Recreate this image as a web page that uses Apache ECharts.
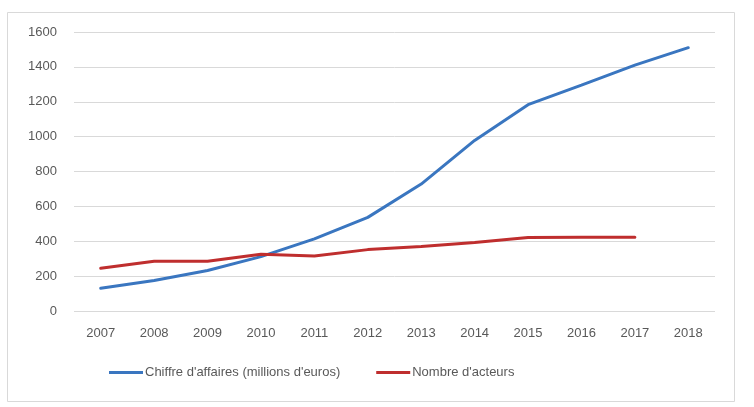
<!DOCTYPE html>
<html>
<head>
<meta charset="utf-8">
<script src="https://cdn.jsdelivr.net/npm/echarts@6/dist/echarts.min.js"></script>
<style>
html,body{margin:0;padding:0;background:#fff;}
#chart{width:754px;height:407px;}
</style>
</head>
<body>
<div id="chart"></div>
<script>
const years = ['2007','2008','2009','2010','2011','2012','2013','2014','2015','2016','2017','2018'];
const chiffreAffaires = [130, 175, 232, 312, 414, 537, 728, 978, 1183, 1295, 1410, 1510];
const nombreActeurs = [245, 285, 285, 325, 316, 352, 370, 393, 422, 423, 423, null];
const seriesNames = ["Chiffre d'affaires (millions d'euros)", "Nombre d'acteurs"];

const chart = echarts.init(document.getElementById('chart'));
const labelColor = '#595959';
const font = 'Liberation Sans';
chart.setOption({
  animation: false,
  backgroundColor: '#fff',
  graphic: [{
    type: 'rect',
    shape: { x: 7.5, y: 12.5, width: 727, height: 389 },
    style: { fill: 'none', stroke: '#d9d9d9', lineWidth: 1 },
    silent: true
  }],
  grid: { left: 74, right: 39, top: 32, bottom: 96 },
  legend: {
    left: 109,
    top: 366,
    padding: 0,
    itemGap: 36,
    itemWidth: 34,
    itemHeight: 3,
    icon: 'rect',
    textStyle: { color: labelColor, fontSize: 13, fontFamily: font, padding: [0, 0, 0, -3] },
    data: seriesNames
  },
  xAxis: {
    type: 'category',
    data: years,
    boundaryGap: true,
    axisLine: { show: false },
    axisTick: { show: false },
    axisLabel: { color: labelColor, fontSize: 13, fontFamily: font, margin: 16 }
  },
  yAxis: {
    type: 'value',
    min: 0,
    max: 1600,
    interval: 200,
    axisLine: { show: false },
    axisTick: { show: false },
    axisLabel: { color: labelColor, fontSize: 13, fontFamily: font, margin: 17, formatter: v => String(v) },
    splitLine: { lineStyle: { color: '#d9d9d9', width: 1 } }
  },
  series: [
    {
      name: seriesNames[0],
      type: 'line',
      data: chiffreAffaires,
      symbol: 'none',
      lineStyle: { color: '#3a76c0', width: 3, cap: 'round' },
      itemStyle: { color: '#3a76c0' }
    },
    {
      name: seriesNames[1],
      type: 'line',
      data: nombreActeurs,
      symbol: 'none',
      lineStyle: { color: '#bf2e2e', width: 3, cap: 'round' },
      itemStyle: { color: '#bf2e2e' }
    }
  ]
});
</script>
</body>
</html>
